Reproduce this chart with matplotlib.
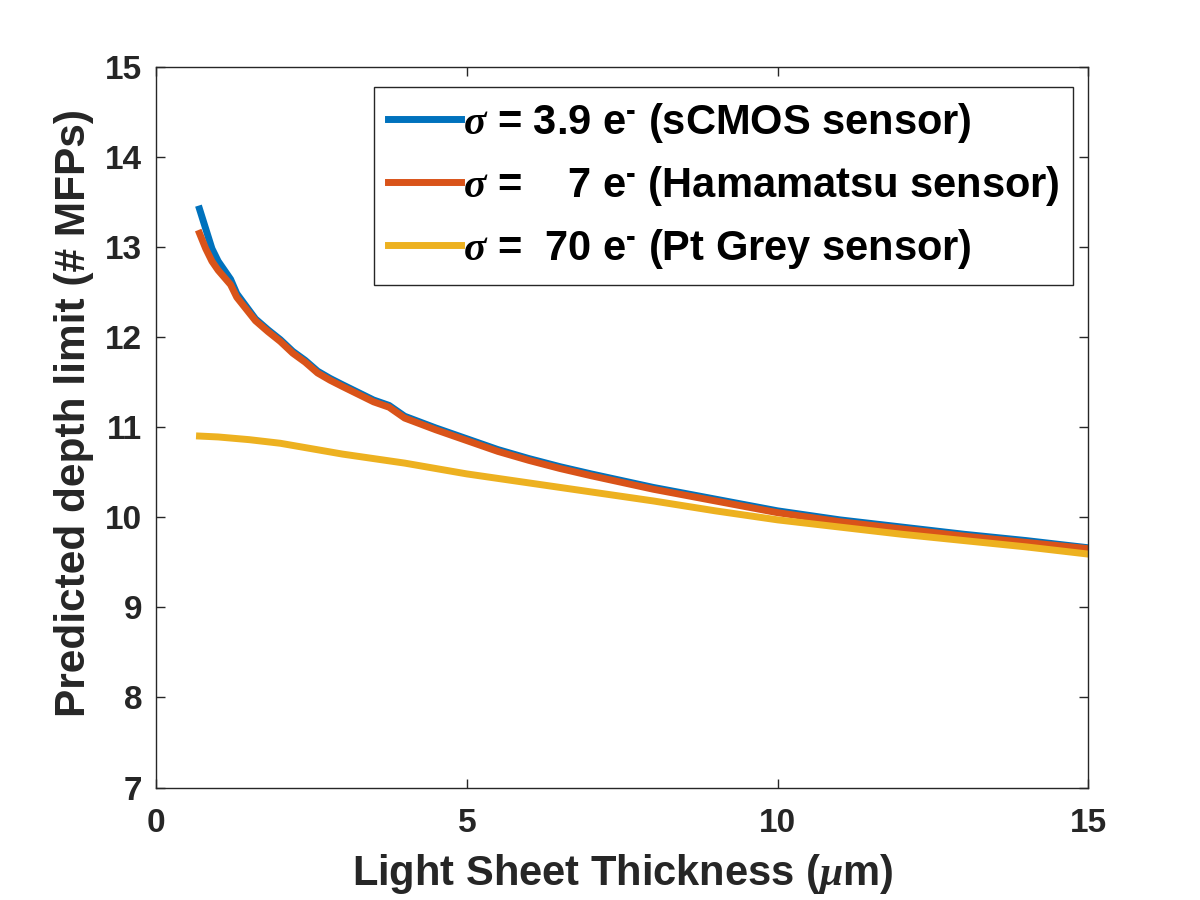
import matplotlib
matplotlib.use("Agg")
import matplotlib.pyplot as plt
import numpy as np

# ---- data ----
x_red = [0.7, 0.8, 0.9, 1.0, 1.2, 1.3, 1.6, 1.8, 2.0, 2.2, 2.4, 2.6, 2.8, 3.0,
         3.5, 3.75, 4.0, 4.5, 5.0, 5.5, 6.0, 6.5, 7.0, 8.0, 9.0, 10.0, 11.0,
         12.0, 13.0, 14.0, 15.0]
y_red = [13.15, 12.98, 12.84, 12.74, 12.58, 12.44, 12.18, 12.06, 11.95, 11.82,
         11.72, 11.60, 11.52, 11.45, 11.28, 11.22, 11.10, 10.97, 10.85, 10.73,
         10.63, 10.54, 10.46, 10.31, 10.18, 10.05, 9.95, 9.87, 9.79, 9.72, 9.65]
x_blue = x_red
y_blue = [13.42, 13.20, 12.98, 12.84, 12.64, 12.48, 12.20, 12.08, 11.97, 11.84,
          11.74, 11.62, 11.54, 11.47, 11.30, 11.24, 11.12, 10.99, 10.87, 10.75,
          10.65, 10.56, 10.48, 10.33, 10.20, 10.07, 9.97, 9.89, 9.81, 9.74, 9.66]
x_yel = [0.7, 1.0, 1.5, 2.0, 2.5, 3.0, 3.5, 4.0, 4.5, 5.0, 5.5, 6.0, 6.5, 7.0,
         8.0, 9.0, 10.0, 11.0, 12.0, 13.0, 14.0, 15.0]
y_yel = [10.90, 10.89, 10.86, 10.82, 10.76, 10.70, 10.65, 10.60, 10.54, 10.48,
         10.43, 10.38, 10.33, 10.28, 10.18, 10.07, 9.97, 9.89, 9.81, 9.74,
         9.67, 9.59]
labels = ['$\\sigma$ = 3.9 e$^{\u2010}$ (sCMOS sensor)',
          '$\\sigma$ =    7 e$^{\u2010}$ (Hamamatsu sensor)',
          '$\\sigma$ =  70 e$^{\u2010}$ (Pt Grey sensor)']
colors = ['#0072BD', '#D95319', '#EDB120']
xticks = [0, 5, 10, 15]
yticks = [7, 8, 9, 10, 11, 12, 13, 14, 15]

plt.rcParams['font.family'] = ['Liberation Sans', 'DejaVu Sans']
plt.rcParams['font.weight'] = 'bold'
plt.rcParams['mathtext.fontset'] = 'custom'
plt.rcParams['mathtext.rm'] = 'Liberation Sans:bold'
plt.rcParams['mathtext.bf'] = 'Liberation Sans:bold'
plt.rcParams['mathtext.it'] = 'Liberation Serif:italic'

axc = '#262626'
fig = plt.figure(figsize=(12, 9), dpi=100)
ax = fig.add_axes([0.13, 0.125, 0.777, 0.801])

lw = 5.0
ax.plot(x_blue, y_blue, color=colors[0], lw=lw, label=labels[0])
ax.plot(x_red, y_red, color=colors[1], lw=lw, label=labels[1])
ax.plot(x_yel, y_yel, color=colors[2], lw=lw, label=labels[2])

ax.set_xlim(0, 15)
ax.set_ylim(7, 15)
ax.set_xticks(xticks)
ax.set_yticks(yticks)
ax.tick_params(direction='in', length=6.5, width=1, colors=axc, labelsize=24,
               top=True, right=True)
ax.tick_params(axis='x', pad=15)
ax.tick_params(axis='y', pad=10)
for lab in ax.get_xticklabels() + ax.get_yticklabels():
    lab.set_fontweight('bold')
for s in ax.spines.values():
    s.set_color(axc)
    s.set_linewidth(1)

ax.set_xlabel(r'Light Sheet Thickness ($\mu$m)', fontsize=30, fontweight='bold', color=axc, labelpad=9)
ax.set_ylabel('Predicted depth limit (# MFPs)', fontsize=30.5, fontweight='bold', color=axc)
ax.yaxis.set_label_coords(-0.067, 0.52)

leg = ax.legend(loc='upper right', bbox_to_anchor=(0.984, 0.972), borderaxespad=0,
                fontsize=30, frameon=True, fancybox=False, framealpha=1,
                handlelength=1.75, handletextpad=0.05, labelspacing=0.46,
                borderpad=0.33)
leg.get_frame().set_edgecolor(axc)
leg.get_frame().set_linewidth(1)
for t in leg.get_texts():
    t.set_fontweight('bold')
    t.set_color('black')

fig.savefig('out.png', dpi=100, facecolor='white')
